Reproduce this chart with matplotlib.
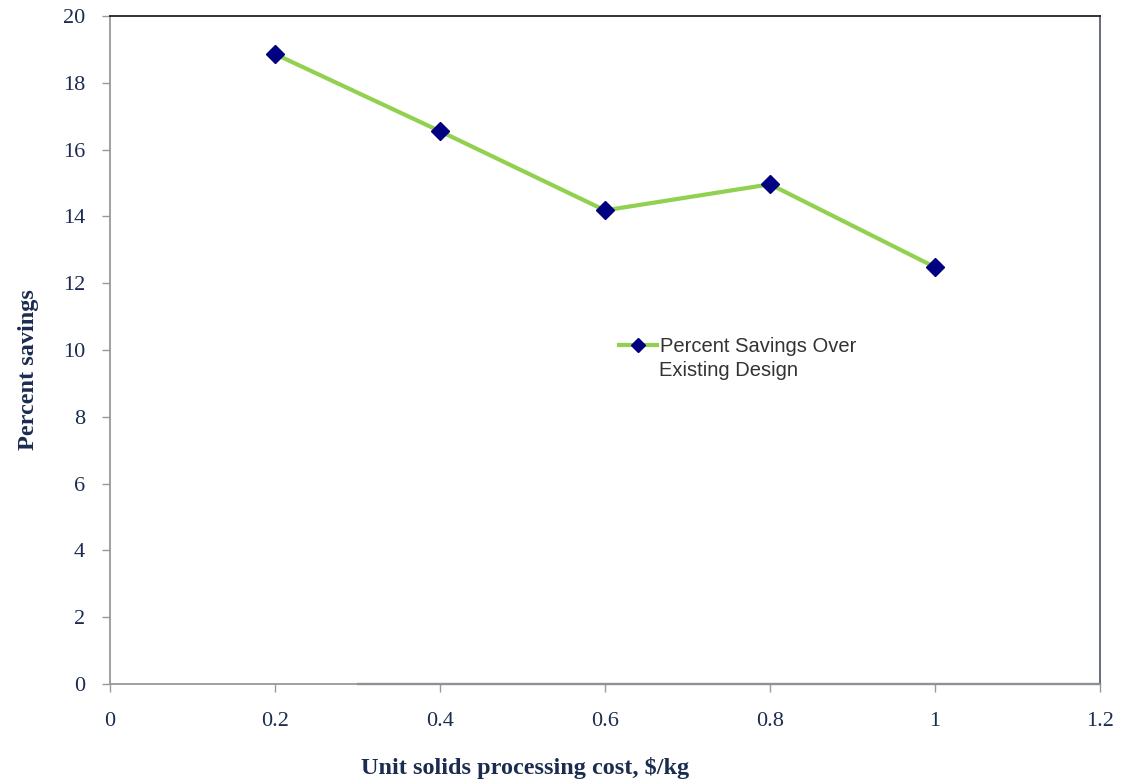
import matplotlib.pyplot as plt
from matplotlib.lines import Line2D

# unit solids processing cost ($/kg) vs percent savings
cost = [0.2, 0.4, 0.6, 0.8, 1.0]
savings = [18.86, 16.55, 14.18, 14.96, 12.48]
x_ticks = [0, 0.2, 0.4, 0.6, 0.8, 1, 1.2]
x_tick_labels = ["0", "0.2", "0.4", "0.6", "0.8", "1", "1.2"]
y_ticks = [0, 2, 4, 6, 8, 10, 12, 14, 16, 18, 20]

navy = "#1c2c50"

fig = plt.figure(figsize=(11.33, 7.84), dpi=100)
ax = fig.add_axes([0.0971, 0.1276, 0.8738, 0.852])

ax.plot(cost, savings, color="#92d050", lw=3, marker="D", markersize=9,
        markerfacecolor="#000080", markeredgecolor="#000080")

ax.set_xlim(0, 1.2)
ax.set_ylim(0, 20)
ax.set_xticks(x_ticks)
ax.set_xticklabels(x_tick_labels)
ax.set_yticks(y_ticks)

for lbl in ax.get_xticklabels() + ax.get_yticklabels():
    lbl.set_family("Liberation Serif")
    lbl.set_fontsize(16)
    lbl.set_color(navy)

ax.tick_params(axis="both", direction="out", length=6, color="#999999", width=1)
ax.tick_params(axis="x", pad=14)
ax.tick_params(axis="y", pad=12)

ax.spines["left"].set_color("#999999")
ax.spines["bottom"].set_color("#999999")
ax.spines["top"].set_color("#222222")
ax.spines["right"].set_color("#5a6078")
for s in ax.spines.values():
    s.set_linewidth(1.3)
ax.axhline(0, xmin=0.25, xmax=1, color="#3b4868", lw=1.6, clip_on=False)

ax.set_xlabel("Unit solids processing cost, $/kg", family="Liberation Serif",
              fontsize=17.5, fontweight="bold", color=navy)
ax.set_ylabel("Percent savings", family="Liberation Serif",
              fontsize=17.5, fontweight="bold", color=navy)
ax.xaxis.set_label_coords(0.419, -0.11)
ax.yaxis.set_label_coords(-0.072, 0.47)

# legend: marker sits on the first text line, Excel style
handle = Line2D([], [], color="#92d050", lw=3, marker="D", markersize=7,
                markerfacecolor="#000080", markeredgecolor="#000080")
leg = ax.legend([handle], ["Percent Savings Over"], loc="center left",
                bbox_to_anchor=(0.504, 0.5045), frameon=False,
                prop={"family": "Liberation Sans", "size": 14.5},
                handlelength=1.9, handletextpad=0.15, borderpad=0)
for t in leg.get_texts():
    t.set_color("#333333")
ax.text(0.555, 0.470, "Existing Design", transform=ax.transAxes,
        family="Liberation Sans", fontsize=14.5, color="#333333",
        ha="left", va="center")

fig.savefig("out.png", dpi=100)
